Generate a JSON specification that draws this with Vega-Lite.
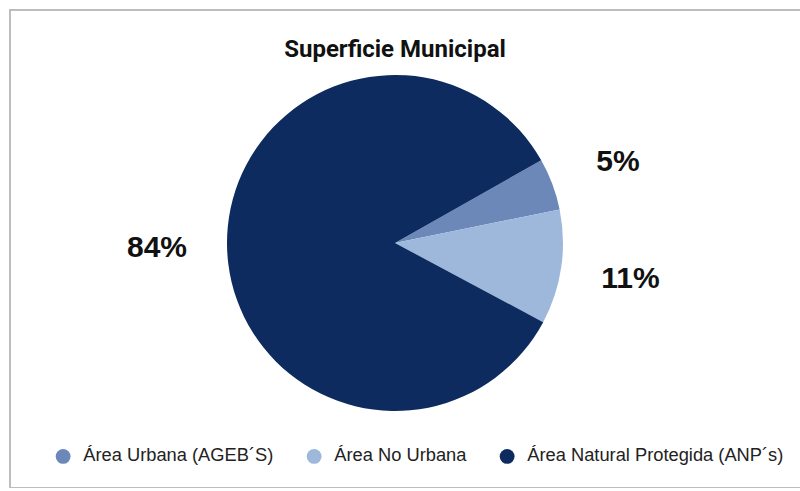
{
  "$schema": "https://vega.github.io/schema/vega-lite/v6.json",
  "width": 800,
  "height": 478,
  "autosize": {"type": "none"},
  "padding": {"left": 10, "top": 10, "right": 0, "bottom": 0},
  "background": "white",
  "view": {"stroke": "#bdbdbd", "strokeWidth": 2},
  "config": {"view": {"stroke": "#bdbdbd", "strokeWidth": 2}},
  "title": {
    "text": "Superficie Municipal",
    "font": "Roboto",
    "fontSize": 24,
    "fontWeight": "bold",
    "color": "#111111",
    "anchor": "middle",
    "frame": "group",
    "dx": -15,
    "offset": -52
  },
  "data": {
    "values": [
      {"categoria": "Área Urbana (AGEB´S)", "valor": 5, "etiqueta": "5%", "orden": 1},
      {"categoria": "Área No Urbana", "valor": 11, "etiqueta": "11%", "orden": 2},
      {"categoria": "Área Natural Protegida (ANP´s)", "valor": 84, "etiqueta": "84%", "orden": 3}
    ]
  },
  "encoding": {
    "theta": {"field": "valor", "type": "quantitative", "stack": true, "scale": {"range": [1.056, 7.339]}},
    "order": {"field": "orden", "type": "quantitative"}
  },
  "layer": [
    {
      "mark": {"type": "arc", "outerRadius": 168, "xOffset": -15, "yOffset": -6},
      "encoding": {
        "color": {
          "field": "categoria",
          "type": "nominal",
          "scale": {
            "domain": ["Área Urbana (AGEB´S)", "Área No Urbana", "Área Natural Protegida (ANP´s)"],
            "range": ["#6b88b9", "#9db8da", "#0e2b60"]
          },
          "legend": {
            "title": null,
            "orient": "none",
            "legendX": 44,
            "legendY": 437,
            "direction": "horizontal",
            "symbolType": "circle",
            "symbolSize": 220,
            "symbolStrokeWidth": 0,
            "labelFont": "Liberation Sans",
            "labelFontSize": 18.3,
            "labelColor": "#222222",
            "labelOffset": 11,
            "columnPadding": 31,
            "labelLimit": 400
          }
        }
      }
    },
    {
      "mark": {"type": "text", "radius": 238, "xOffset": -15, "yOffset": -4, "font": "Liberation Sans", "fontWeight": "bold", "fontSize": 30, "fill": "#111111"},
      "encoding": {"text": {"field": "etiqueta", "type": "nominal"}}
    }
  ]
}
